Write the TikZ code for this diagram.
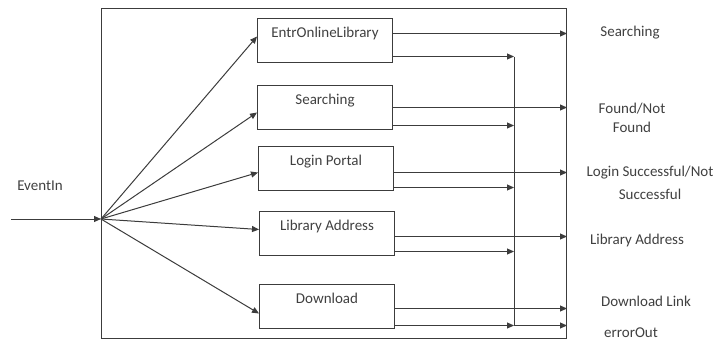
\documentclass[tikz,border=0pt]{standalone}
\usepackage{fontspec}
\setmainfont{Carlito}
\definecolor{mygray}{RGB}{60,60,60}
\definecolor{mytext}{RGB}{64,64,64}
\usetikzlibrary{arrows.meta,positioning,calc}

\begin{document}
\begin{tikzpicture}[x=1pt,y=-1pt,
        every node/.style={text=mytext,font=\fontsize{15}{19}\selectfont},
        procnode/.style={draw=mygray,line width=1pt,minimum width=135pt,inner xsep=0pt,inner ysep=0pt,text height=19pt,text depth=25pt,anchor=north},
        outnode/.style={align=center},
        wire/.style={draw=mygray,line width=1pt},
        flow/.style={wire,-{Triangle[length=7pt,width=6pt]}}
        ]
        \useasboundingbox (0,0) rectangle (715,341);

        % the system boundary
        \node[draw=mygray,line width=1pt,minimum width=465pt,minimum height=330pt,inner sep=0pt,anchor=north west] (sys) at (101,8) {};

        % the processes
        \node[procnode] (p1) at (325,18) {EntrOnlineLibrary};
        \node[procnode] (p2) at (325,85) {Searching};
        \node[procnode] (p3) at (326,146) {Login Portal};
        \node[procnode] (p4) at (327,211) {Library Address};
        \node[procnode] (p5) at (327,284) {Download};

        % the event input
        \node (evin) at (40,186) {EventIn};
        \coordinate (src) at (11,219);
        \coordinate (fan) at (sys.west |- src);
        \draw[flow] (src) -- (fan);

        % the fan-out
        \draw[flow] (fan) -- ([yshift=4pt]p1.west);
        \draw[flow] (fan) -- ([yshift=-5pt]p2.west);
        \draw[flow] (fan) -- ([yshift=-4pt]p3.west);
        \draw[flow] (fan) -- ([yshift=4pt]p4.west);
        \draw[flow] (fan) -- ([yshift=-7pt]p5.west);

        % the outputs
        \coordinate (q1) at ([yshift=7pt]p1.east);
        \coordinate (q2) at (p2.east);
        \coordinate (q3) at ([yshift=-4pt]p3.east);
        \coordinate (q4) at ([yshift=-3pt]p4.east);
        \coordinate (q5) at ([yshift=-2pt]p5.east);
        \draw[flow] (q1) -- (q1 -| sys.east);
        \draw[flow] (q2) -- (q2 -| sys.east);
        \draw[flow] (q3) -- (q3 -| sys.east);
        \draw[flow] (q4) -- (q4 -| sys.east);
        \draw[flow] (q5) -- (q5 -| sys.east);

        % the error bus
        \coordinate (bus) at (514,0);
        \coordinate (r1) at ([yshift=-16pt]p1.east);
        \coordinate (r2) at ([yshift=-18pt]p2.east);
        \coordinate (r3) at ([yshift=-19pt]p3.east);
        \coordinate (r4) at ([yshift=-18pt]p4.east);
        \coordinate (r5) at ([yshift=-19pt]p5.east);
        \draw[flow] (r1) -- (r1 -| bus);
        \draw[flow] (r2) -- (r2 -| bus);
        \draw[flow] (r3) -- (r3 -| bus);
        \draw[flow] (r4) -- (r4 -| bus);
        \draw[flow] (r5) -- (r5 -| bus);
        \draw[wire] (r1 -| bus) -- (r5 -| bus);
        \draw[flow] (r5 -| bus) -- (r5 -| sys.east);

        % the output labels
        \node (o1) at (630,33) {Searching};
        \node[outnode] (o2) at (632,118) {Found/Not\\Found};
        \node[outnode] (o3) at (650,183) {Login Successful/Not\\[4pt]Successful};
        \node (o4) at (637,240) {Library Address};
        \node (o5) at (646,301) {Download Link};
        \node (o6) at (631,333) {errorOut};
\end{tikzpicture}
\end{document}
